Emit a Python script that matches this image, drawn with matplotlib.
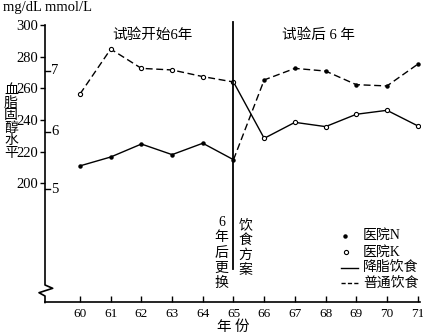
import matplotlib
matplotlib.use("Agg")
import matplotlib.pyplot as plt
from matplotlib.lines import Line2D

# ---------------- data ----------------
years = [60, 61, 62, 63, 64, 65, 66, 67, 68, 69, 70, 71]
hospital_n = [211, 216.6, 224.8, 218.1, 225.3, 214.9, 265.3, 272.6, 270.9, 262.3, 261.5, 275.2]
hospital_k = [256.4, 284.8, 272.6, 271.6, 267.4, 264.0, 228.4, 238.5, 235.8, 243.6, 246.1, 236.3]
switch_year = 65
mg_ticks = [200, 220, 240, 260, 280, 300]
mmol_labels = ["5", "6", "7"]
mmol_pos = [196.2, 232.6, 271.1]   # where the mmol/L ticks sit on the mg/dL scale
xtick_labels = [str(y) for y in years]

W, H = 423, 334
fig = plt.figure(figsize=(W / 100, H / 100), dpi=100)

def fp(px, py):
    return (px / W, 1 - py / H)

ax = fig.add_axes([45 / W, (H - 302) / H, 375 / W, 277 / H])
ax.set_xlim(58.86, 71.075)
ax.set_ylim(125, 300)

serif = ["Liberation Serif", "Noto Sans CJK SC"]
cjk = ["Noto Sans CJK SC", "Liberation Serif"]

i = years.index(switch_year)
dash = (0, (5, 2.6))
# before switch: N low-fat (solid), K normal (dashed)
ax.plot(years[:i + 1], hospital_n[:i + 1], color="black", lw=1.0, ls="-")
ax.plot(years[:i + 1], hospital_k[:i + 1], color="black", lw=1.0, ls=dash)
# after switch: N normal (dashed), K low-fat (solid)
ax.plot(years[i:], hospital_n[i:], color="black", lw=1.0, ls=dash)
ax.plot(years[i:], hospital_k[i:], color="black", lw=1.0, ls="-")
ax.plot(years, hospital_n, ls="none", marker="o", ms=2.2, mfc="black", mec="black")
ax.plot(years, hospital_k, ls="none", marker="o", ms=3.0, mfc="white", mec="black", mew=0.8)

# vertical divider
ax.plot([switch_year, switch_year], [301.9, 145.9], color="black", lw=1.3, clip_on=False)

# spines
for s in ["top", "right", "left"]:
    ax.spines[s].set_visible(False)
ax.spines["bottom"].set_linewidth(1.2)

ax.set_xticks(years)
ax.set_xticklabels(xtick_labels, family=serif, fontsize=9.5)
ax.tick_params(axis="x", direction="in", length=4.5, width=1.0, pad=4)
ax.set_yticks(mg_ticks)
ax.set_yticklabels([str(v) for v in mg_ticks], family=serif, fontsize=10.5)
ax.tick_params(axis="y", direction="out", length=3.6, width=1.0, pad=1)

# mmol ticks to the right of the axis
for lab, pos in zip(mmol_labels, mmol_pos):
    ax.plot([0, 5 / 375], [pos, pos], transform=ax.get_yaxis_transform(), color="black",
            lw=1.0, clip_on=False)
    ax.text(6 / 375, pos, lab, transform=ax.get_yaxis_transform(), ha="left", va="center",
            family=serif, fontsize=10.5)

# left axis with break
pts = [(45, 25), (45, 285), (52.7, 288.3), (39, 292.7), (45, 296), (45, 302.5)]
fx = [fp(a, b)[0] for a, b in pts]
fy = [fp(a, b)[1] for a, b in pts]
fig.add_artist(Line2D(fx, fy, transform=fig.transFigure, color="black", lw=1.2))

# texts
def t(px, py, s, size, fam=serif, ha="center", va="center"):
    x, y = fp(px, py)
    fig.text(x, y, s, fontsize=size, family=fam, ha=ha, va=va)

t(3, 8, "mg/dL mmol/L", 10.5, ha="left")
t(152, 35, "试验开始6年", 10.5)
t(318, 35, "试验后 6 年", 10.5)
for k, ch in enumerate("血脂固醇水平"):
    t(11, 90 + k * 12.6, ch, 10, fam=cjk)
for k, ch in enumerate("6年后更换"):
    t(221.7, 223 + k * 15, ch, 10, fam=serif)
for k, ch in enumerate("饮食方案"):
    t(245.7, 225 + k * 15, ch, 10, fam=cjk)
t(233, 327, "年 份", 10.5, fam=cjk)

# legend
lx0, lx1, tx = 340.5, 358.3, 363
ys = [235.7, 252.3, 267.7, 283.3]
x, y = fp(345, ys[0])
fig.add_artist(Line2D([x], [y], transform=fig.transFigure, marker="o", ms=2.2, mfc="black", mec="black"))
x, y = fp(345.5, ys[1])
fig.add_artist(Line2D([x], [y], transform=fig.transFigure, marker="o", ms=3.0, mfc="white", mec="black", mew=0.8))
a, yy = fp(lx0, ys[2]); b, _ = fp(lx1, ys[2])
fig.add_artist(Line2D([a, b], [yy, yy], transform=fig.transFigure, color="black", lw=1.0))
a, yy = fp(lx0, ys[3]); b, _ = fp(lx1, ys[3])
fig.add_artist(Line2D([a, b], [yy, yy], transform=fig.transFigure, color="black", lw=1.0, ls=(0, (3, 1.6))))
for s, yv in zip(["医院N", "医院K", "降脂饮食", "普通饮食"], ys):
    t(tx, yv, s, 10, fam=serif, ha="left")

fig.savefig("out.png", dpi=100)
